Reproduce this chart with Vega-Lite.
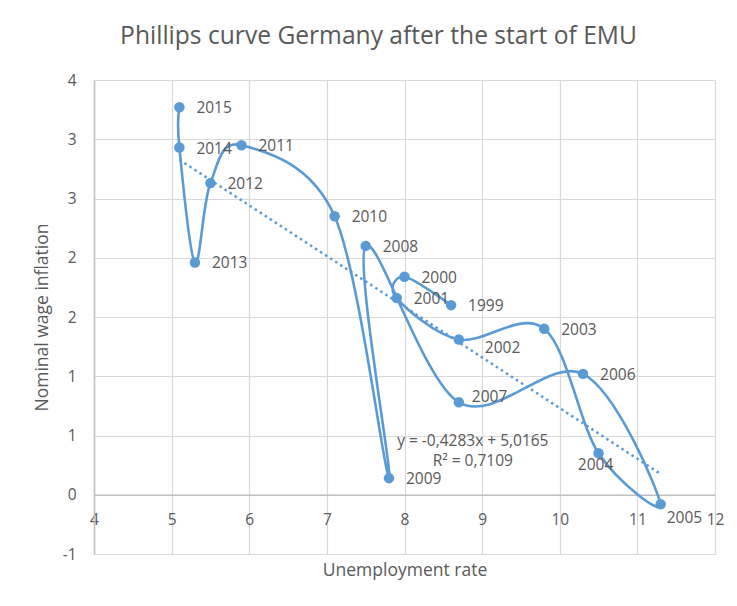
{
  "$schema": "https://vega.github.io/schema/vega-lite/v6.json",
  "width": 621,
  "height": 474,
  "autosize": {"type": "none"},
  "padding": {"left": 94, "top": 80, "right": 22, "bottom": 52},
  "background": "white",
  "config": {"view": {"stroke": null}, "font": "Open Sans"},
  "title": {
    "text": "Phillips curve Germany after the start of EMU",
    "fontSize": 24.6,
    "font": "Open Sans",
    "fontWeight": "normal",
    "color": "#595959",
    "anchor": "middle",
    "frame": "bounds",
    "baseline": "alphabetic",
    "offset": 4
  },
  "datasets": {
    "pts": [
      {"year": 1999, "u": 8.6, "w": 1.6},
      {"year": 2000, "u": 8.0, "w": 1.84},
      {"year": 2001, "u": 7.9, "w": 1.66},
      {"year": 2002, "u": 8.7, "w": 1.31},
      {"year": 2003, "u": 9.8, "w": 1.4},
      {"year": 2004, "u": 10.5, "w": 0.35},
      {"year": 2005, "u": 11.3, "w": -0.08},
      {"year": 2006, "u": 10.3, "w": 1.02},
      {"year": 2007, "u": 8.7, "w": 0.78},
      {"year": 2008, "u": 7.5, "w": 2.1},
      {"year": 2009, "u": 7.8, "w": 0.14},
      {"year": 2010, "u": 7.1, "w": 2.35},
      {"year": 2011, "u": 5.9, "w": 2.95},
      {"year": 2012, "u": 5.5, "w": 2.63},
      {"year": 2013, "u": 5.3, "w": 1.96},
      {"year": 2014, "u": 5.1, "w": 2.93},
      {"year": 2015, "u": 5.1, "w": 3.27}
    ],
    "eq": [
      {"u": 8.88, "w": 0.455, "label": "y = -0,4283x + 5,0165"},
      {"u": 8.88, "w": 0.286, "label": "R² = 0,7109"}
    ]
  },
  "data": {"name": "pts"},
  "encoding": {
    "x": {
      "field": "u",
      "type": "quantitative",
      "scale": {"domain": [4, 12], "nice": false, "zero": false},
      "axis": {
        "title": "Unemployment rate",
        "values": [4, 5, 6, 7, 8, 9, 10, 11, 12],
        "offset": -59.25,
        "grid": true,
        "gridColor": "#d9d9d9",
        "gridWidth": 1.2,
        "ticks": false,
        "domainColor": "#bfbfbf",
        "domainWidth": 1.5,
        "labelFontSize": 15.5,
        "labelColor": "#595959",
        "labelPadding": 17.5,
        "labelFlush": false,
        "labelOverlap": false,
        "titleFontSize": 17.5,
        "titleFontWeight": "normal",
        "titleColor": "#595959",
        "titlePadding": 34
      }
    },
    "y": {
      "field": "w",
      "type": "quantitative",
      "scale": {"domain": [-0.5, 3.5], "nice": false, "zero": false},
      "axis": {
        "title": "Nominal wage inflation",
        "values": [-0.5, 0, 0.5, 1, 1.5, 2, 2.5, 3, 3.5],
        "labelExpr": "replace(format(datum.value, '.0f'), '\u2212', '-')",
        "grid": true,
        "gridColor": "#d9d9d9",
        "gridWidth": 1.2,
        "ticks": false,
        "domainColor": "#bfbfbf",
        "domainWidth": 1.5,
        "labelFontSize": 15.5,
        "labelColor": "#595959",
        "labelPadding": 18,
        "labelFlush": false,
        "labelOverlap": false,
        "titleFontSize": 17.5,
        "titleFontWeight": "normal",
        "titleColor": "#595959",
        "titlePadding": 11
      }
    }
  },
  "layer": [
    {
      "mark": {"type": "line", "interpolate": "cardinal", "tension": 0, "color": "#5B9BD5", "strokeWidth": 2.6},
      "encoding": {"order": {"field": "year", "type": "quantitative"}}
    },
    {
      "mark": {"type": "circle", "size": 110, "opacity": 1, "color": "#5B9BD5"}
    },
    {
      "transform": [{"regression": "w", "on": "u"}],
      "mark": {"type": "line", "color": "#5B9BD5", "strokeWidth": 2.5, "strokeDash": [2.5, 3.5]}
    },
    {
      "transform": [{"filter": "datum.year != 2002 && datum.year != 2004 && datum.year != 2005 && datum.year != 2007"}],
      "mark": {"type": "text", "align": "left", "baseline": "middle", "dx": 17, "dy": 1, "fontSize": 15.5, "color": "#595959"},
      "encoding": {"text": {"field": "year", "type": "nominal"}}
    },
    {
      "transform": [{"filter": "datum.year == 2002"}],
      "mark": {"type": "text", "align": "left", "baseline": "middle", "dx": 26, "dy": 8, "fontSize": 15.5, "color": "#595959"},
      "encoding": {"text": {"field": "year", "type": "nominal"}}
    },
    {
      "transform": [{"filter": "datum.year == 2007"}],
      "mark": {"type": "text", "align": "left", "baseline": "middle", "dx": 13, "dy": -5, "fontSize": 15.5, "color": "#595959"},
      "encoding": {"text": {"field": "year", "type": "nominal"}}
    },
    {
      "transform": [{"filter": "datum.year == 2004"}],
      "mark": {"type": "text", "align": "center", "baseline": "middle", "dx": -3, "dy": 12, "fontSize": 15.5, "color": "#595959"},
      "encoding": {"text": {"field": "year", "type": "nominal"}}
    },
    {
      "transform": [{"filter": "datum.year == 2005"}],
      "mark": {"type": "text", "align": "left", "baseline": "middle", "dx": 6, "dy": 14, "fontSize": 15.5, "color": "#595959"},
      "encoding": {"text": {"field": "year", "type": "nominal"}}
    },
    {
      "data": {"name": "eq"},
      "mark": {"type": "text", "align": "center", "baseline": "middle", "fontSize": 15.5, "color": "#595959"},
      "encoding": {"text": {"field": "label", "type": "nominal"}}
    }
  ]
}
